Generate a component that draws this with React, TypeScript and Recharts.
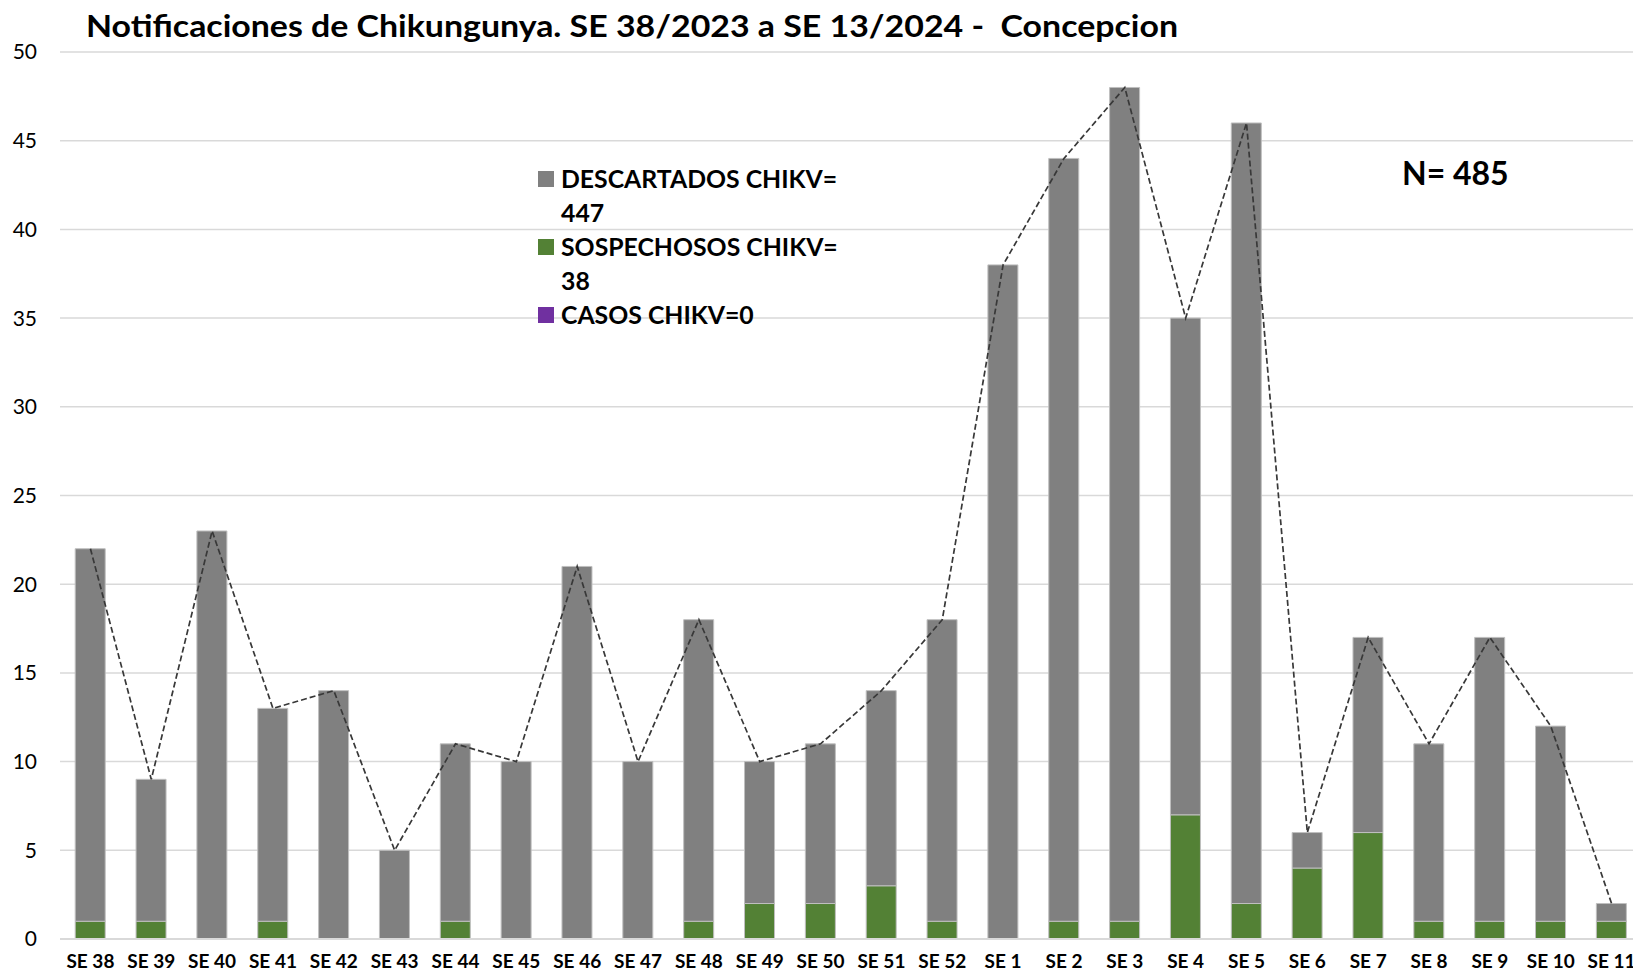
import React from 'react';
import { ComposedChart, Bar, Line, XAxis, YAxis, CartesianGrid, Legend } from 'recharts';

const weeks = ['SE 38','SE 39','SE 40','SE 41','SE 42','SE 43','SE 44','SE 45','SE 46','SE 47','SE 48','SE 49','SE 50','SE 51','SE 52','SE 1','SE 2','SE 3','SE 4','SE 5','SE 6','SE 7','SE 8','SE 9','SE 10','SE 11'];
const descartados = [21, 8, 23, 12, 14, 5, 10, 10, 21, 10, 17, 8, 9, 11, 17, 38, 43, 47, 28, 44, 2, 11, 10, 16, 11, 1];
const sospechosos = [1, 1, 0, 1, 0, 0, 1, 0, 0, 0, 1, 2, 2, 3, 1, 0, 1, 1, 7, 2, 4, 6, 1, 1, 1, 1];
const casos = [0, 0, 0, 0, 0, 0, 0, 0, 0, 0, 0, 0, 0, 0, 0, 0, 0, 0, 0, 0, 0, 0, 0, 0, 0, 0];
const yTicks = [0, 5, 10, 15, 20, 25, 30, 35, 40, 45, 50];

const title = 'Notificaciones de Chikungunya. SE 38/2023 a SE 13/2024 -  Concepcion';
const totalLabel = 'N= 485';
const legendItems = [
  { lines: ['DESCARTADOS CHIKV=', '447'], color: '#808080' },
  { lines: ['SOSPECHOSOS CHIKV=', '38'], color: '#538135' },
  { lines: ['CASOS CHIKV=0'], color: '#7030A0' },
];

const data = weeks.map((w, i) => ({
  week: w,
  descartados: descartados[i],
  sospechosos: sospechosos[i],
  casos: casos[i],
  total: descartados[i] + sospechosos[i] + casos[i],
}));

const FONT = 'Lato, "Open Sans", sans-serif';

const LegendContent = () => (
  <div style={{ fontFamily: FONT, fontWeight: 700, fontSize: 24.8, color: '#000', lineHeight: '34px' }}>
    {legendItems.map((it, i) => (
      <div key={i} style={{ display: 'flex', alignItems: 'flex-start' }}>
        <div style={{ width: 16, height: 16, background: it.color, marginTop: 9, marginRight: 7, flex: 'none' }} />
        <div>
          {it.lines.map((l, j) => (
            <div key={j} style={{ whiteSpace: 'nowrap', height: 34 }}>{l}</div>
          ))}
        </div>
      </div>
    ))}
  </div>
);

export default function App() {
  return (
    <div style={{ position: 'absolute', left: 0, top: 0, width: 1633, height: 973, overflow: 'hidden', background: '#fff' }}>
      <ComposedChart
        width={1650}
        height={973}
        data={data}
        margin={{ top: 52, right: 8, bottom: 4, left: 0 }}
        barCategoryGap="25%"
      >
        <CartesianGrid vertical={false} stroke="#d9d9d9" strokeWidth={1.5} />
        <XAxis
          dataKey="week"
          interval={0}
          height={30}
          tickSize={0}
          tickMargin={16}
          axisLine={{ stroke: '#d9d9d9', strokeWidth: 2 }}
          tickLine={false}
          tick={{ fontFamily: FONT, fontWeight: 700, fontSize: 19, fill: '#000' }}
        />
        <YAxis
          width={60}
          domain={[0, 50]}
          ticks={yTicks}
          interval={0}
          tickSize={0}
          tickMargin={23}
          axisLine={false}
          tickLine={false}
          tick={{ fontFamily: FONT, fontSize: 21, fill: '#000' }}
        />
        <Legend
          layout="vertical"
          align="center"
          verticalAlign="middle"
          content={<LegendContent />}
          wrapperStyle={{ position: 'absolute', left: 538, top: 162, width: 340 }}
        />
        <Bar dataKey="sospechosos" stackId="a" fill="#538135" stroke="#bfbfbf" strokeWidth={1} isAnimationActive={false} />
        <Bar dataKey="descartados" stackId="a" fill="#808080" stroke="#bfbfbf" strokeWidth={1} isAnimationActive={false} />
        <Bar dataKey="casos" stackId="a" fill="#7030A0" isAnimationActive={false} />
        <Line
          dataKey="total"
          type="linear"
          stroke="#383838"
          strokeWidth={1.7}
          strokeDasharray="6 3"
          dot={false}
          activeDot={false}
          legendType="none"
          isAnimationActive={false}
        />
      </ComposedChart>
      <svg width={1633} height={973} style={{ position: 'absolute', left: 0, top: 0, pointerEvents: 'none' }}>
        <text x={86} y={36.5} fontFamily={FONT} fontWeight={700} fontSize={31} fill="#000" textLength={1092} lengthAdjust="spacingAndGlyphs" xmlSpace="preserve" style={{ whiteSpace: 'pre' }}>{title}</text>
        <text x={1402} y={185} fontFamily={FONT} fontWeight={700} fontSize={32} fill="#000">{totalLabel}</text>
      </svg>
    </div>
  );
}
